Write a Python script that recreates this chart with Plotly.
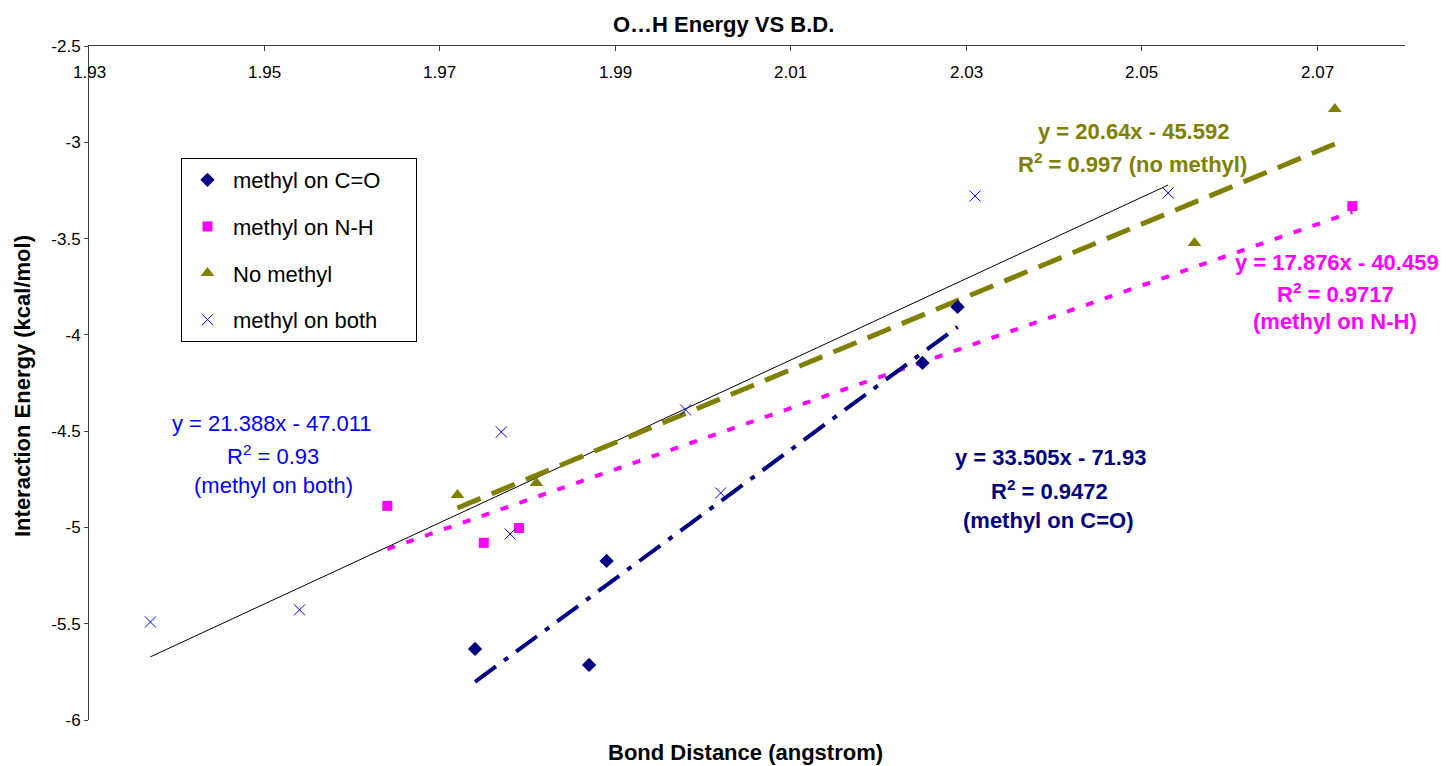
import plotly.graph_objects as go

# ---------------- data ----------------
co_x = [1.974, 1.987, 1.989, 2.025, 2.029]
co_y = [-5.631, -5.714, -5.174, -4.146, -3.855]

nh_x = [1.964, 1.975, 1.979, 2.074]
nh_y = [-4.888, -5.080, -5.003, -3.331]

nm_x = [1.972, 1.981, 2.056, 2.072]
nm_y = [-4.831, -4.769, -3.523, -2.827]

both_x = [1.937, 1.954, 1.977, 1.978, 1.998, 2.002, 2.031, 2.053]
both_y = [-5.491, -5.428, -4.504, -5.034, -4.390, -4.821, -3.279, -3.263]

# trend line end points as drawn
trend_co_x = [1.974, 2.029]
trend_co_y = [-5.802, -3.959]
trend_nh_x = [1.964, 2.074]
trend_nh_y = [-5.112, -3.362]
trend_nm_x = [1.972, 2.072]
trend_nm_y = [-4.899, -3.009]
trend_both_x = [1.937, 2.053]
trend_both_y = [-5.672, -3.222]

x_ticks = [1.93, 1.95, 1.97, 1.99, 2.01, 2.03, 2.05, 2.07]
x_ticktext = ["1.93", "1.95", "1.97", "1.99", "2.01", "2.03", "2.05", "2.07"]
y_ticks = [-6, -5.5, -5, -4.5, -4, -3.5, -3, -2.5]
y_ticktext = ["-6", "-5.5", "-5", "-4.5", "-4", "-3.5", "-3", "-2.5"]

NAVY = "#000080"
MAG = "#FF00FF"
OLIVE = "#808000"
BLUE = "#0000FF"
FONT = "Liberation Sans, Arial, sans-serif"

W, H = 1446, 766
L, R, T, B = 89, 41, 46, 46
PW, PH = W - L - R, H - T - B


def pxx(x):
    return (x - L) / PW


def pxy(y):
    return (H - B - y) / PH


fig = go.Figure()

# trend lines (no legend)
fig.add_trace(go.Scatter(x=trend_both_x, y=trend_both_y, mode="lines",
                         line=dict(color="#000000", width=1), showlegend=False, hoverinfo="skip"))
fig.add_trace(go.Scatter(x=trend_nm_x, y=trend_nm_y, mode="lines",
                         line=dict(color=OLIVE, width=5, dash="25px,12px"), showlegend=False, hoverinfo="skip"))
fig.add_trace(go.Scatter(x=trend_nh_x, y=trend_nh_y, mode="lines",
                         line=dict(color=MAG, width=4, dash="8px,12px"), showlegend=False, hoverinfo="skip"))
fig.add_trace(go.Scatter(x=trend_co_x, y=trend_co_y, mode="lines",
                         line=dict(color=NAVY, width=4, dash="26px,10px,5px,10px"), showlegend=False, hoverinfo="skip"))

# data series
fig.add_trace(go.Scatter(x=co_x, y=co_y, mode="markers", name="methyl on C=O" + "\u00a0" * 5, legendgroup="a",
                         marker=dict(symbol="diamond", size=11, color=NAVY)))
fig.add_trace(go.Scatter(x=nh_x, y=nh_y, mode="markers", name="methyl on N-H", legendgroup="b",
                         marker=dict(symbol="square", size=10, color=MAG)))
fig.add_trace(go.Scatter(x=nm_x, y=nm_y, mode="markers", name="No methyl", legendgroup="c",
                         marker=dict(symbol="triangle-up", size=12, color=OLIVE)))
fig.add_trace(go.Scatter(x=both_x, y=both_y, mode="markers", name="methyl on both", legendgroup="d",
                         marker=dict(symbol="x-thin", size=11, color=BLUE,
                                     line=dict(color=BLUE, width=1))))

ann = []


def text(x, y, s, color="#000000", size=22, bold=False, angle=0):
    if bold:
        s = "<b>" + s + "</b>"
    ann.append(dict(x=pxx(x), y=pxy(y), xref="paper", yref="paper", text=s, showarrow=False,
                    xanchor="center", yanchor="middle", textangle=angle,
                    font=dict(family=FONT, size=size, color=color)))


text(723, 24, "O…H Energy VS B.D.", bold=True)
text(745, 752, "Bond Distance (angstrom)", bold=True)
text(22, 386, "Interaction Energy (kcal/mol)", bold=True, angle=-90)

text(1133, 132, "y = 20.64x - 45.592", OLIVE, bold=True)
text(1132, 163, "R<sup>2</sup> = 0.997 (no methyl)", OLIVE, bold=True)

text(1337, 262, "y = 17.876x - 40.459", MAG, bold=True)
text(1335, 293, "R<sup>2</sup> = 0.9717", MAG, bold=True)
text(1335, 321, "(methyl on N-H)", MAG, bold=True)

text(1050, 457, "y = 33.505x - 71.93", NAVY, bold=True)
text(1049, 490, "R<sup>2</sup> = 0.9472", NAVY, bold=True)
text(1048, 520, "(methyl on C=O)", NAVY, bold=True)

text(272, 423, "y = 21.388x - 47.011", BLUE)
text(273, 455, "R<sup>2</sup> = 0.93", BLUE)
text(273, 485, "(methyl on both)", BLUE)

# x tick labels, placed on the x scale, just below the top axis line
for tv, tt in zip(x_ticks, x_ticktext):
    ann.append(dict(x=tv, y=pxy(72), xref="x", yref="paper", text=tt, showarrow=False,
                    xanchor="center", yanchor="middle",
                    font=dict(family=FONT, size=17, color="#000000")))

fig.update_layout(
    width=W, height=H,
    margin=dict(l=L, r=R, t=T, b=B, autoexpand=False),
    paper_bgcolor="white", plot_bgcolor="white",
    font=dict(family=FONT, size=17, color="#000000"),
    annotations=ann,
    showlegend=True,
    legend=dict(x=pxx(181), y=pxy(158), xanchor="left", yanchor="top",
                bordercolor="#000000", borderwidth=1, bgcolor="white",
                font=dict(family=FONT, size=22, color="#000000"),
                traceorder="grouped", tracegroupgap=15, itemwidth=41),
    xaxis=dict(range=[1.93, 2.08], side="top", tickmode="array", tickvals=x_ticks,
               ticks="inside", ticklen=5, tickcolor="#404040", showline=True, linecolor="#404040",
               linewidth=1, showgrid=False, zeroline=False, showticklabels=False),
    yaxis=dict(range=[-6, -2.5], tickmode="array", tickvals=y_ticks, ticktext=y_ticktext,
               ticks="outside", ticklen=4, tickcolor="#404040", showline=True, linecolor="#404040",
               linewidth=1, showgrid=False, zeroline=False, tickfont=dict(size=17)),
)

fig.write_html("out.html", config={"displayModeBar": False},
               post_script="document.body.style.margin='0';")
